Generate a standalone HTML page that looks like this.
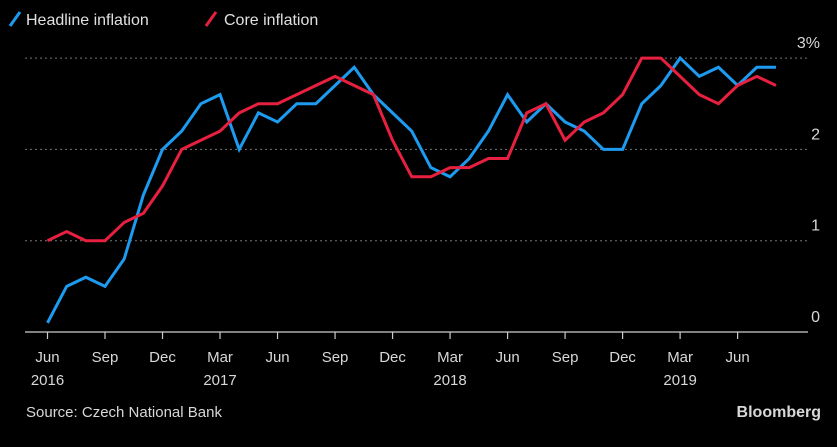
<!DOCTYPE html>
<html><head><meta charset="utf-8"><style>
body{margin:0;background:#000;width:837px;height:447px;overflow:hidden;font-family:"Liberation Sans",sans-serif;}
</style></head><body>
<svg width="837" height="447" style="position:absolute;left:0;top:0">
<g>
 <line x1="10" y1="26" x2="20" y2="12" stroke="#1d9bf0" stroke-width="3"/>
 <text x="26" y="25" fill="#e0e0e0" font-size="16">Headline inflation</text>
 <line x1="206" y1="26" x2="216" y2="12" stroke="#e8203f" stroke-width="3"/>
 <text x="224" y="25" fill="#e0e0e0" font-size="16">Core inflation</text>
</g>
<g id="grid"></g>
<g id="xaxis"></g>
<g id="series"></g>
<text x="26" y="417" fill="#d8d8d8" font-size="15">Source: Czech National Bank</text>
<text x="821" y="417" fill="#d8d8d8" font-size="16" font-weight="bold" text-anchor="end">Bloomberg</text>
</svg>
<script>
const headline=[0.1,0.5,0.6,0.5,0.8,1.5,2.0,2.2,2.5,2.6,2.0,2.4,2.3,2.5,2.5,2.7,2.9,2.6,2.4,2.2,1.8,1.7,1.9,2.2,2.6,2.3,2.5,2.3,2.2,2.0,2.0,2.5,2.7,3.0,2.8,2.9,2.7,2.9,2.9];
const core=[1.0,1.1,1.0,1.0,1.2,1.3,1.6,2.0,2.1,2.2,2.4,2.5,2.5,2.6,2.7,2.8,2.7,2.6,2.1,1.7,1.7,1.8,1.8,1.9,1.9,2.4,2.5,2.1,2.3,2.4,2.6,3.0,3.0,2.8,2.6,2.5,2.7,2.8,2.7];
const yTicks=[0,1,2,3];
const yTickLabels=["0","1","2","3%"];
const xTickLabels=["Jun","Sep","Dec","Mar","Jun","Sep","Dec","Mar","Jun","Sep","Dec","Mar","Jun"];
const yearLabels=[[0,"2016"],[3,"2017"],[7,"2018"],[11,"2019"]];
const NS="http://www.w3.org/2000/svg";
const x=i=>47.5+i*19.17;
const y=v=>332-v*91.3;
function mk(tag,attrs,parent){const e=document.createElementNS(NS,tag);for(const k in attrs)e.setAttribute(k,attrs[k]);parent.appendChild(e);return e;}
const grid=document.getElementById('grid');
yTicks.forEach((t,i)=>{
 if(t>0){const l=mk('line',{x1:25,x2:808,y1:y(t),y2:y(t),stroke:'#777','stroke-dasharray':'2,3','stroke-width':1},grid);
 
 }
 const tx=mk('text',{x:820,y:y(t)-10,fill:'#d8d8d8','font-size':16,'text-anchor':'end'},grid);
 tx.textContent=yTickLabels[i];
 
 
});
const xa=document.getElementById('xaxis');
const base=mk('line',{x1:25,x2:808,y1:332,y2:332,stroke:'#ccc','stroke-width':1.2},xa);


xTickLabels.forEach((lab,i)=>{
 const xx=x(i*3);
 const tk=mk('line',{x1:xx,x2:xx,y1:332,y2:339,stroke:'#ccc','stroke-width':1.2},xa);
 
 
 const t=mk('text',{x:xx,y:362,fill:'#d8d8d8','font-size':15,'text-anchor':'middle'},xa);
 t.textContent=lab;
 
 
});
yearLabels.forEach(([q,lab])=>{
 const t=mk('text',{x:x(q*3),y:385,fill:'#d8d8d8','font-size':15,'text-anchor':'middle'},xa);
 t.textContent=lab;
 
 
});
const sg=document.getElementById('series');
function line(data,color,name){
 const p=mk('polyline',{points:data.map((v,i)=>x(i)+','+y(v)).join(' '),fill:'none',stroke:color,'stroke-width':3,'stroke-linejoin':'miter'},sg);
 
 
}
line(headline,'#1d9bf0','headline-inflation-line');
line(core,'#e8203f','core-inflation-line');
</script>
</body></html>
